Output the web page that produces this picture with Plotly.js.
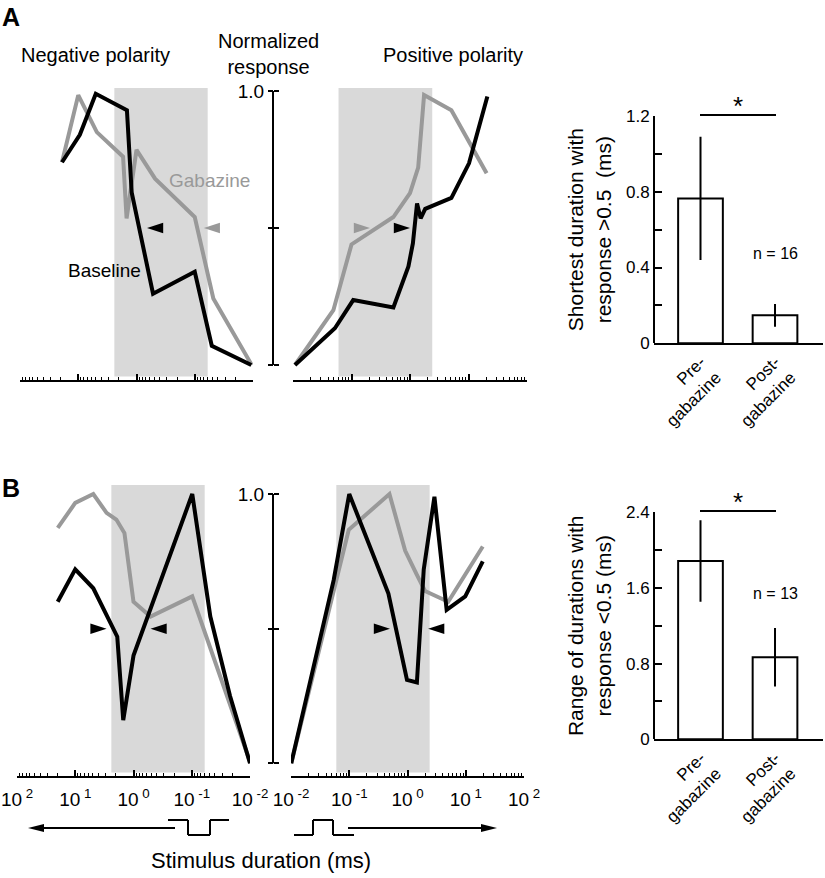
<!DOCTYPE html>
<html><head><meta charset="utf-8">
<script src="https://cdn.plot.ly/plotly-3.0.1.min.js"></script>
<style>html,body{margin:0;padding:0;background:#fff}#chart{width:825px;height:878px}</style>
</head><body><div id="chart"></div>
<script>
// ---------- DATA ----------
// Panel A, negative polarity (duration ms, normalized response)
const aNegBaseDur  = [19, 9.4, 5.0, 1.46, 1.21, 0.52, 0.1, 0.051, 0.0107];
const aNegBaseResp = [0.74, 0.84, 0.99, 0.93, 0.63, 0.26, 0.34, 0.07, 0.0];
const aNegGabaDur  = [19, 10, 4.8, 1.7, 1.48, 1.0, 0.48, 0.1, 0.048, 0.0105];
const aNegGabaResp = [0.74, 0.985, 0.85, 0.76, 0.535, 0.785, 0.68, 0.54, 0.243, 0.0];
// Panel A, positive polarity
const aPosBaseDur  = [0.0108, 0.052, 0.107, 0.52, 0.94, 1.12, 1.32, 1.52, 1.82, 5.1, 10.2, 21];
const aPosBaseResp = [0.0, 0.134, 0.237, 0.21, 0.36, 0.444, 0.59, 0.535, 0.57, 0.61, 0.736, 0.98];
const aPosGabaDur  = [0.0108, 0.049, 0.1, 0.52, 1.0, 1.38, 1.74, 5.1, 20.4];
const aPosGabaResp = [0.0, 0.2, 0.44, 0.54, 0.627, 0.72, 0.985, 0.93, 0.70];
// Panel B, negative polarity
const bNegBaseDur  = [20, 10, 4.9, 1.9, 1.5, 1.0, 0.098, 0.048, 0.022, 0.01];
const bNegBaseResp = [0.60, 0.72, 0.65, 0.47, 0.16, 0.40, 1.0, 0.545, 0.25, 0.0];
const bNegGabaDur  = [20, 10, 4.9, 2.9, 1.97, 1.43, 1.0, 0.51, 0.098, 0.0098];
const bNegGabaResp = [0.874, 0.967, 1.0, 0.93, 0.905, 0.855, 0.60, 0.545, 0.62, 0.0];
// Panel B, positive polarity
const bPosBaseDur  = [0.0101, 0.054, 0.1, 0.47, 0.98, 1.45, 1.9, 2.9, 4.7, 9.8, 19.6];
const bPosBaseResp = [0.0, 0.68, 1.0, 0.63, 0.31, 0.30, 0.72, 0.99, 0.57, 0.62, 0.75];
const bPosGabaDur  = [0.0101, 0.098, 0.49, 0.91, 1.45, 2.0, 5.0, 19.6];
const bPosGabaResp = [0.0, 0.867, 1.0, 0.79, 0.70, 0.64, 0.60, 0.805];
// Shaded duration band (ms)
const shadedBand = [0.06, 2.4];
// Half-max markers (arrowhead tips, ms)
const aNegMarkBase = [0.66], aNegMarkGaba = [0.07];
const aPosMarkGaba = [0.207], aPosMarkBase = [1.0];
const bNegMarkRight = [2.9], bNegMarkLeft = [0.51];
const bPosMarkRight = [0.5], bPosMarkLeft = [2.26];
// Bar charts
const barCats = ['Pre-<br>gabazine', 'Post-<br>gabazine'];
const aBarMean = [0.765, 0.148];
const aBarErr  = [0.325, 0.06];
const bBarMean = [1.885, 0.867];
const bBarErr  = [0.43, 0.31];
// Tick labels
const respTickVals = [1];
const respTickText = ['1.0'];
const respMinorVals = [0, 0.5];
const decadeVals = [0.01, 0.1, 1, 10, 100];
const decadeText = ['10<sup> -2</sup>', '10<sup> -1</sup>', '10<sup> 0</sup>', '10<sup> 1</sup>', '10<sup> 2</sup>'];
const aBarTickVals = [0, 0.4, 0.8, 1.2];
const aBarTickText = ['0', '0.4', '0.8', '1.2'];
const aBarMinorVals = [0.2, 0.6, 1.0];
const bBarTickVals = [0, 0.8, 1.6, 2.4];
const bBarTickText = ['0', '0.8', '1.6', '2.4'];
const bBarMinorVals = [0.4, 1.2, 2.0];

// minor tick positions (2..9 within each decade)
const minorVals = [];
decadeVals.slice(0, 4).forEach(d => { for (let k = 2; k <= 9; k++) minorVals.push(d * k); });

// ---------- LAYOUT HELPERS ----------
const W = 825, H = 878;
const fx = p => p / W;
const fy = p => 1 - p / H;
const BLACK = '#000000', GRAY = '#999999', SHADE = '#d9d9d9';
const FONT = 'Liberation Sans, Arial, sans-serif';

function line(x, y, xa, ya, color) {
  return {type: 'scatter', mode: 'lines', x: x, y: y, xaxis: xa, yaxis: ya,
    line: {color: color, width: 4, shape: 'linear'}, showlegend: false, hoverinfo: 'skip'};
}
function mark(x, xa, ya, color, ang) {
  return {type: 'scatter', mode: 'markers', x: x, y: x.map(() => 0.5), xaxis: xa, yaxis: ya,
    marker: {symbol: 'arrow', angle: ang, size: 17, color: color, line: {width: 0}},
    showlegend: false, hoverinfo: 'skip', cliponaxis: false};
}

const traces = [
  line(aNegGabaDur, aNegGabaResp, 'x', 'y', GRAY),
  line(aNegBaseDur, aNegBaseResp, 'x', 'y', BLACK),
  line(aPosGabaDur, aPosGabaResp, 'x2', 'y2', GRAY),
  line(aPosBaseDur, aPosBaseResp, 'x2', 'y2', BLACK),
  line(bNegGabaDur, bNegGabaResp, 'x4', 'y4', GRAY),
  line(bNegBaseDur, bNegBaseResp, 'x4', 'y4', BLACK),
  line(bPosGabaDur, bPosGabaResp, 'x5', 'y5', GRAY),
  line(bPosBaseDur, bPosBaseResp, 'x5', 'y5', BLACK),
  mark(aNegMarkBase, 'x', 'y', BLACK, -90),
  mark(aNegMarkGaba, 'x', 'y', GRAY, -90),
  mark(aPosMarkGaba, 'x2', 'y2', GRAY, 90),
  mark(aPosMarkBase, 'x2', 'y2', BLACK, 90),
  mark(bNegMarkRight, 'x4', 'y4', BLACK, 90),
  mark(bNegMarkLeft, 'x4', 'y4', BLACK, -90),
  mark(bPosMarkRight, 'x5', 'y5', BLACK, 90),
  mark(bPosMarkLeft, 'x5', 'y5', BLACK, -90),
  {type: 'bar', x: barCats, y: aBarMean, xaxis: 'x3', yaxis: 'y3', width: 0.6,
    marker: {color: '#ffffff', line: {color: BLACK, width: 2}},
    error_y: {type: 'data', array: aBarErr, visible: true, color: BLACK, thickness: 2, width: 0},
    showlegend: false, hoverinfo: 'skip'},
  {type: 'bar', x: barCats, y: bBarMean, xaxis: 'x6', yaxis: 'y6', width: 0.6,
    marker: {color: '#ffffff', line: {color: BLACK, width: 2}},
    error_y: {type: 'data', array: bBarErr, visible: true, color: BLACK, thickness: 2, width: 0},
    showlegend: false, hoverinfo: 'skip'}
];

function logX(dom, rng, anchor, labels) {
  return {domain: dom, type: 'log', range: rng, anchor: anchor, showline: true, linewidth: 2, linecolor: BLACK,
    ticks: 'inside', ticklen: 6, tickwidth: 2, tickcolor: BLACK,
    tickmode: 'array', tickvals: decadeVals, ticktext: decadeText, ticklabelstandoff: 5,
    showticklabels: labels, tickfont: {size: 19, color: BLACK, family: FONT},
    minor: {tickmode: 'array', tickvals: minorVals, ticks: 'inside', ticklen: 3, tickwidth: 1, tickcolor: BLACK, showgrid: false},
    showgrid: false, zeroline: false, fixedrange: true};
}
function respY(dom, rng, side, labels) {
  return {domain: dom, range: rng, anchor: 'free', position: fx(273), side: side,
    ticks: 'outside', ticklen: 5, tickwidth: 2, tickcolor: BLACK,
    tickmode: 'array', tickvals: respTickVals, ticktext: respTickText, showticklabels: labels,
    minor: {tickmode: 'array', tickvals: respMinorVals, ticks: 'outside', ticklen: 5, tickwidth: 2, tickcolor: BLACK, showgrid: false},
    tickfont: {size: 19, color: BLACK, family: FONT},
    showline: false, showgrid: false, zeroline: false, fixedrange: true};
}
function barY(dom, rng, tv, tt, mv, title) {
  return {domain: dom, range: rng, anchor: 'free', position: fx(654), side: 'left',
    showline: true, linewidth: 2, linecolor: BLACK,
    ticks: 'inside', ticklen: 7, tickwidth: 2, tickcolor: BLACK,
    tickmode: 'array', tickvals: tv, ticktext: tt, tickfont: {size: 17, color: BLACK, family: FONT},
    minor: {tickmode: 'array', tickvals: mv, ticks: 'inside', ticklen: 7, tickwidth: 2, tickcolor: BLACK, showgrid: false},
    title: {text: title, font: {size: 21, color: BLACK, family: FONT}, standoff: 8},
    showgrid: false, zeroline: false, fixedrange: true};
}
function barX(dom, anchor) {
  return {domain: dom, anchor: anchor, type: 'category', range: [-0.624, 1.644],
    showline: true, linewidth: 2, linecolor: BLACK, ticks: '', tickangle: -45,
    tickfont: {size: 17, color: BLACK, family: FONT}, showgrid: false, zeroline: false, fixedrange: true};
}

const aYR = [-15 / 274, 1 + 3 / 274];
const bYR = [-12.7 / 269, 1 + 9 / 269];

const layout = {
  width: W, height: H, margin: {l: 0, r: 0, t: 0, b: 0},
  paper_bgcolor: '#ffffff', plot_bgcolor: 'rgba(0,0,0,0)',
  font: {family: FONT, color: BLACK},
  showlegend: false, bargap: 0.4,
  xaxis:  logX([fx(20), fx(253)], [2, -2], 'y', false),
  yaxis:  respY([fy(380), fy(88)], aYR, 'left', true),
  xaxis2: logX([fx(293), fx(527)], [-2, 2], 'y2', false),
  yaxis2: respY([fy(380), fy(88)], aYR, 'right', false),
  xaxis3: barX([fx(654), fx(823)], 'y3'),
  yaxis3: barY([fy(343.3), fy(116)], [0, 1.2], aBarTickVals, aBarTickText, aBarMinorVals, 'Shortest duration with<br>response >0.5  (ms)'),
  xaxis4: logX([fx(17), fx(250)], [2, -2], 'y4', true),
  yaxis4: respY([fy(776), fy(485)], bYR, 'left', true),
  xaxis5: logX([fx(291), fx(524)], [-2, 2], 'y5', true),
  yaxis5: respY([fy(776), fy(485)], bYR, 'right', false),
  xaxis6: barX([fx(654), fx(823)], 'y6'),
  yaxis6: barY([fy(739.3), fy(512.3)], [0, 2.4], bBarTickVals, bBarTickText, bBarMinorVals, 'Range of durations with<br>response <0.5 (ms)'),
  shapes: [],
  annotations: []
};

// shaded bands
[['x', 'y'], ['x2', 'y2'], ['x4', 'y4'], ['x5', 'y5']].forEach(([xa, ya]) => {
  layout.shapes.push({type: 'rect', xref: xa, yref: ya + ' domain', x0: shadedBand[0], x1: shadedBand[1],
    y0: 0.012, y1: 1, fillcolor: SHADE, line: {width: 0}, layer: 'below'});
});
// normalized response vertical axis lines
['y', 'y4'].forEach(ya => {
  layout.shapes.push({type: 'line', xref: 'paper', yref: ya, x0: fx(273), x1: fx(273), y0: 0, y1: 1,
    line: {color: BLACK, width: 2}});
});
// significance bars
layout.shapes.push({type: 'line', xref: 'paper', yref: 'paper', x0: fx(700), x1: fx(776), y0: fy(115), y1: fy(115), line: {color: BLACK, width: 2}});
layout.shapes.push({type: 'line', xref: 'paper', yref: 'paper', x0: fx(700), x1: fx(776), y0: fy(511), y1: fy(511), line: {color: BLACK, width: 2}});

// stimulus pictograms (paper px)
function seg(x0, y0, x1, y1) {
  layout.shapes.push({type: 'line', xref: 'paper', yref: 'paper', x0: fx(x0), y0: fy(y0), x1: fx(x1), y1: fy(y1), line: {color: BLACK, width: 2}});
}
seg(40, 828, 175, 828);
seg(168, 820, 188, 820); seg(188, 820, 188, 835); seg(188, 835, 210, 835); seg(210, 835, 210, 820); seg(210, 820, 229, 820);
seg(294, 835, 313, 835); seg(313, 835, 313, 820); seg(313, 820, 333, 820); seg(333, 820, 333, 835); seg(333, 835, 354, 835);
seg(348, 828, 484, 828);
layout.shapes.push({type: 'path', xref: 'paper', yref: 'paper',
  path: `M ${fx(28)} ${fy(828)} L ${fx(44)} ${fy(824)} L ${fx(44)} ${fy(832)} Z`, fillcolor: BLACK, line: {width: 0}});
layout.shapes.push({type: 'path', xref: 'paper', yref: 'paper',
  path: `M ${fx(497)} ${fy(828)} L ${fx(481)} ${fy(824)} L ${fx(481)} ${fy(832)} Z`, fillcolor: BLACK, line: {width: 0}});

function txt(text, x, y, size, opts) {
  layout.annotations.push(Object.assign({text: text, xref: 'paper', yref: 'paper', x: fx(x), y: fy(y),
    showarrow: false, xanchor: 'center', yanchor: 'middle',
    font: {size: size, color: BLACK, family: FONT}}, opts || {}));
}
txt('<b>A</b>', 11, 17, 25);
txt('<b>B</b>', 11, 488, 25);
txt('Negative polarity', 95, 55, 20);
txt('Normalized<br>response', 268, 54, 20);
txt('Positive polarity', 453, 55, 20);
txt('Gabazine', 210, 180, 18, {font: {size: 19, color: GRAY, family: FONT}});
txt('Baseline', 104, 270, 19);
txt('*', 738, 106, 26);
txt('*', 738, 502, 26);
txt('n = 16', 775, 253, 16);
txt('n = 13', 775, 593, 16);
txt('Stimulus duration (ms)', 261, 860, 22);

Plotly.newPlot('chart', traces, layout, {staticPlot: true, displayModeBar: false});
</script>
</body></html>
